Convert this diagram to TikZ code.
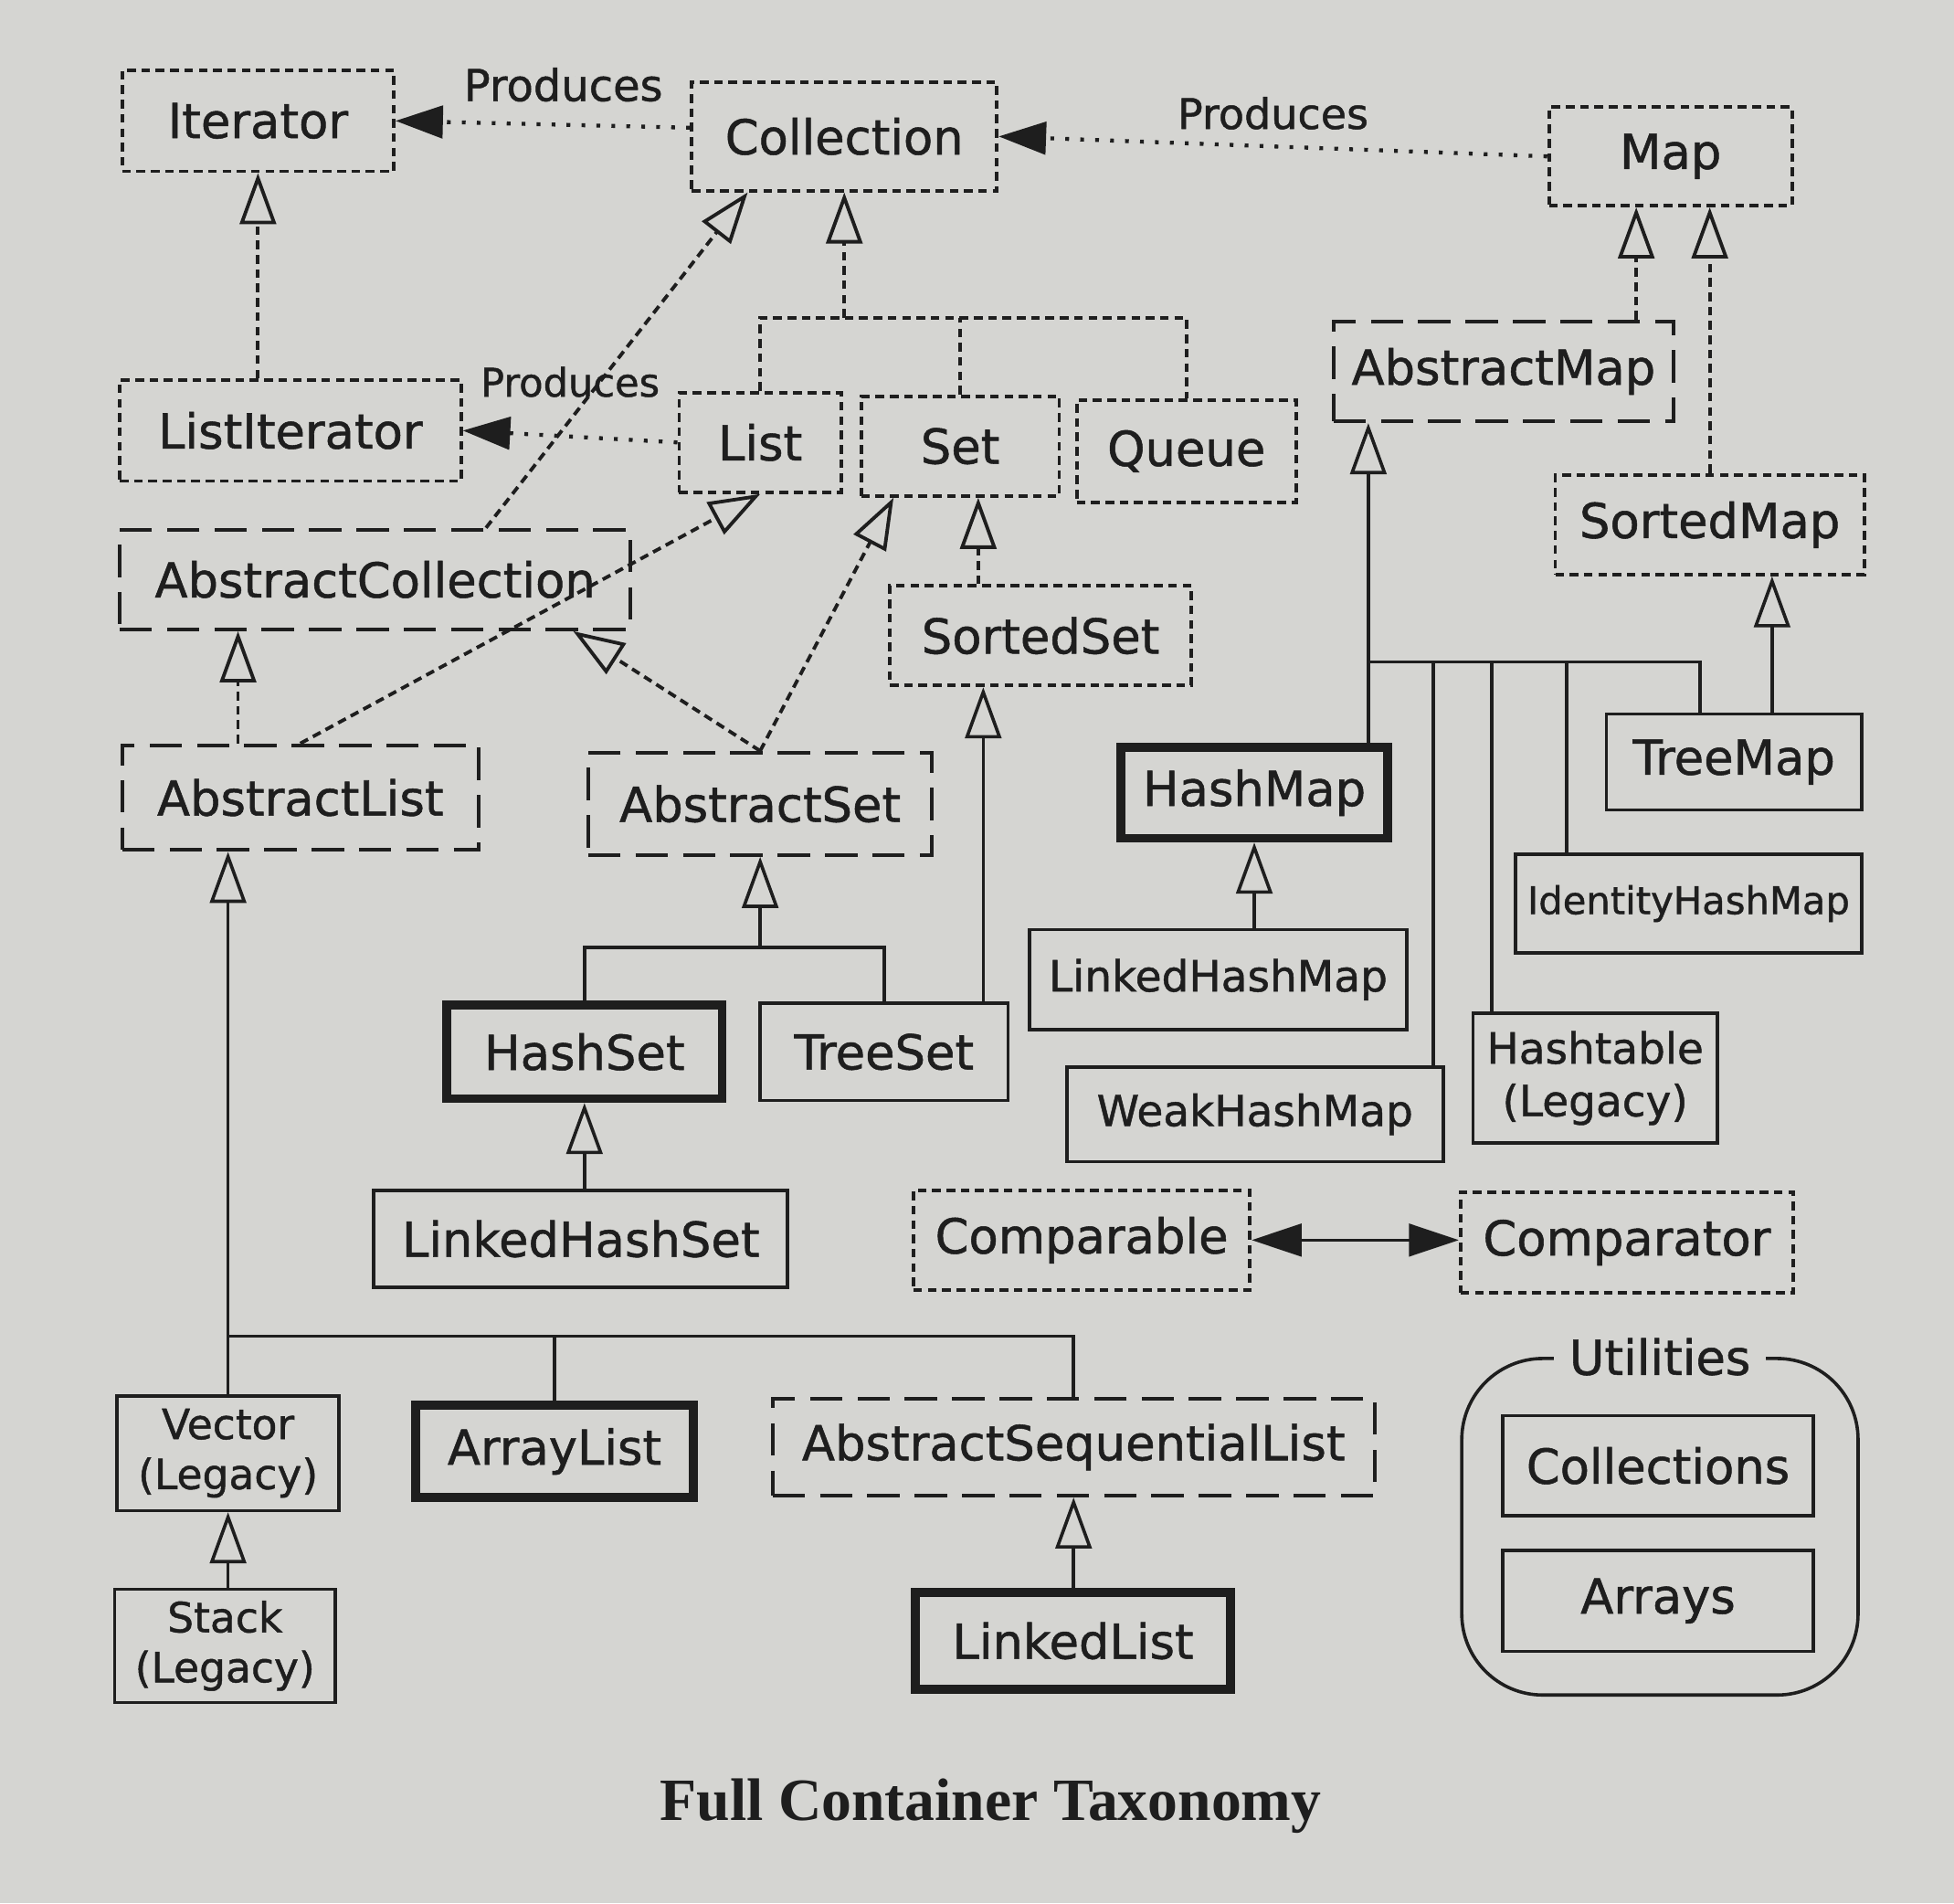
\documentclass[tikz,border=0pt]{standalone}
\usepackage{fontspec}
\usetikzlibrary{arrows.meta}
\newfontfamily\boxfont[FakeBold=1]{DejaVu Sans}
\newfontfamily\capfont{Liberation Serif}
\definecolor{paper}{RGB}{213,213,210}
\definecolor{ink}{RGB}{30,30,30}

\begin{document}
\begin{tikzpicture}[color=ink,line width=0.75pt,
   every node/.style={font=\boxfont\fontsize{11}{13}\selectfont},
   sz/.style 2 args={minimum width=#1cm,minimum height=#2cm,inner sep=0pt},
   ibox/.style={draw,line width=0.8pt,dash pattern=on 0.07cm off 0.045cm},
   abox/.style={draw,line width=0.85pt,dash pattern=on 0.26cm off 0.12cm},
   cbox/.style={draw},
   kbox/.style={draw,line width=2.0pt},
   twoline/.style={align=center,font=\boxfont\fontsize{9.5}{11.4}\selectfont},
   iline/.style={line width=0.8pt,dash pattern=on 0.07cm off 0.045cm},
   isa/.style={-{Triangle[open,length=0.41cm,width=0.29cm]}},
   prod/.style={-{Triangle[length=0.38cm,width=0.26cm]},line width=0.9pt,dash pattern=on 0.03cm off 0.09cm},
   plabel/.style={inner sep=0pt,font=\boxfont\fontsize{10}{12}\selectfont}]

   \fill[paper] (0,0) rectangle (15.68,15.27);
   \useasboundingbox (0,0) rectangle (15.68,15.27);

   \node[ibox,sz={2.18}{0.81}] (iter) at (2.07,14.30) {Iterator};
   \node[ibox,sz={2.45}{0.87}] (coll) at (6.775,14.175) {Collection};
   \node[ibox,sz={1.95}{0.79}] (map) at (13.405,14.015) {Map};
   \node[ibox,sz={2.74}{0.81}] (lit) at (2.33,11.815) {ListIterator};
   \node[ibox,sz={1.30}{0.80}] (list) at (6.10,11.72) {List};
   \node[ibox,sz={1.59}{0.80}] (set) at (7.705,11.69) {Set};
   \node[ibox,sz={1.76}{0.82}] (queue) at (9.52,11.65) {Queue};
   \node[abox,sz={2.73}{0.80}] (amap) at (12.065,12.29) {AbstractMap};
   \node[ibox,sz={2.48}{0.80}] (smap) at (13.72,11.06) {SortedMap};
   \node[abox,sz={4.10}{0.80}] (acoll) at (3.01,10.62) {AbstractCollection};
   \node[ibox,sz={2.42}{0.80}] (sset) at (8.35,10.17) {SortedSet};
   \node[abox,sz={2.86}{0.84}] (alist) at (2.41,8.87) {AbstractList};
   \node[abox,sz={2.76}{0.82}] (aset) at (6.10,8.82) {AbstractSet};
   \node[kbox,sz={2.14}{0.73}] (hmap) at (10.065,8.91) {HashMap};
   \node[cbox,sz={2.05}{0.77}] (tmap) at (13.915,9.155) {TreeMap};
   \node[cbox,sz={2.78}{0.79},font=\boxfont\fontsize{8.7}{10}\selectfont] (ihmap) at (13.55,8.02) {IdentityHashMap};
   \node[cbox,sz={3.03}{0.80},font=\boxfont\fontsize{9.8}{12}\selectfont] (lhmap) at (9.775,7.41) {LinkedHashMap};
   \node[kbox,sz={2.21}{0.75}] (hset) at (4.69,6.83) {HashSet};
   \node[cbox,sz={1.99}{0.78}] (tset) at (7.095,6.83) {TreeSet};
   \node[cbox,sz={3.02}{0.76},font=\boxfont\fontsize{9.8}{12}\selectfont] (whmap) at (10.07,6.33) {WeakHashMap};
   \node[cbox,sz={1.96}{1.04},twoline,font=\boxfont\fontsize{9.8}{12}\selectfont] (htab) at (12.80,6.62) {Hashtable\\(Legacy)};
   \node[cbox,sz={3.32}{0.78}] (lhset) at (4.66,5.33) {LinkedHashSet};
   \node[ibox,sz={2.70}{0.80}] (cmpable) at (8.68,5.32) {Comparable};
   \node[ibox,sz={2.67}{0.81}] (cmpator) at (13.055,5.30) {Comparator};
   \node[cbox,sz={1.78}{0.92},twoline] (vec) at (1.83,3.61) {Vector\\(Legacy)};
   \node[kbox,sz={2.23}{0.74}] (alst) at (4.45,3.625) {ArrayList};
   \node[abox,sz={4.83}{0.78}] (aseq) at (8.615,3.66) {AbstractSequentialList};
   \node[cbox,sz={1.77}{0.91},twoline] (stack) at (1.805,2.065) {Stack\\(Legacy)};
   \node[kbox,sz={2.53}{0.78}] (llist) at (8.61,2.105) {LinkedList};

   \node[cbox,rounded corners=0.65cm,sz={3.18}{2.70}] (util) at (13.32,3.02) {};
   \node[fill=paper,inner xsep=0.12cm,inner ysep=0pt] (utiltitle) at (util.north) {Utilities};
   \node[cbox,sz={2.49}{0.80}] (colls) at (13.305,3.51) {Collections};
   \node[cbox,sz={2.49}{0.81}] (arrs) at (13.305,2.425) {Arrays};

   \node[font=\capfont\bfseries\fontsize{13.7}{16}\selectfont] (title) at (7.95,0.78) {Full Container Taxonomy};

   \draw[prod] ([yshift=0.07cm]coll.west) -- (iter.east)
      node[plabel,pos=0.43,above=0.17cm] (prod1) {Produces};
   \draw[prod] (list.west) -- (lit.east)
      node[plabel,pos=0.5,above=0.3cm,font=\boxfont\fontsize{9}{11}\selectfont] (prod2) {Produces};
   \draw[prod] (map.west) -- (coll.east)
      node[plabel,midway,above=0.12cm,font=\boxfont\fontsize{9.6}{11}\selectfont] (prod3) {Produces};

   \draw[isa,iline] (iter.south |- lit.north) -- (iter.south);
   \coordinate (cbar) at (6.775,12.72);
   \draw[iline] (list.north) |- (cbar) -| (queue.north);
   \draw[iline] (set.north) -- (set.north |- cbar);
   \draw[isa,iline] (cbar) -- (coll.south);
   \draw[isa,iline] ([xshift=0.89cm]acoll.north) -- ([xshift=-0.775cm]coll.south);
   \draw[isa,iline] ([xshift=-0.5cm]sset.north) -- ([xshift=-0.5cm]sset.north |- set.south);
   \draw[isa,iline] (alist.north) -- (list.south);
   \draw[isa,iline] ([xshift=-0.5cm]alist.north) -- ([xshift=-0.5cm]alist.north |- acoll.south);
   \draw[isa,iline] (aset.north) -- ([xshift=-0.535cm]set.south);
   \draw[isa,iline] (aset.north) -- ([xshift=1.59cm]acoll.south);

   \coordinate (sbar) at (6.10,7.67);
   \draw (hset.north) |- (sbar) -| (tset.north);
   \draw[isa] (sbar) -- (aset.south);
   \draw[isa] ([xshift=0.795cm]tset.north) -- ([xshift=0.795cm]tset.north |- sset.south);
   \draw[isa] (hset.south |- lhset.north) -- (hset.south);

   \coordinate (lbar) at (1.83,4.55);
   \draw (vec.north) -- (lbar) -| (aseq.north);
   \draw (alst.north) -- (alst.north |- lbar);
   \draw[isa] (lbar) -- (lbar |- alist.south);
   \draw[isa] (vec.south |- stack.north) -- (vec.south);
   \draw[isa] (aseq.south |- llist.north) -- (aseq.south);

   \draw[isa,iline] ([xshift=1.065cm]amap.north) -- ([xshift=1.065cm]amap.north |- map.south);
   \draw[isa,iline] (smap.north) -- (smap.north |- map.south);
   \coordinate (mbar) at (10.98,9.96);
   \draw (hmap.north -| mbar) -- (mbar) -| ([xshift=-0.275cm]tmap.north);
   \draw ([xshift=1.43cm]whmap.north) -- ([xshift=1.43cm]whmap.north |- mbar);
   \draw ([xshift=-0.83cm]htab.north) -- ([xshift=-0.83cm]htab.north |- mbar);
   \draw ([xshift=-0.98cm]ihmap.north) -- ([xshift=-0.98cm]ihmap.north |- mbar);
   \draw[isa] (mbar) -- (mbar |- amap.south);
   \draw[isa] ([xshift=0.305cm]tmap.north) -- ([xshift=0.305cm]tmap.north |- smap.south);
   \draw[isa] (hmap.south |- lhmap.north) -- (hmap.south);

   \draw[{Triangle[length=0.4cm,width=0.26cm]}-{Triangle[length=0.4cm,width=0.26cm]}] (cmpable.east) -- (cmpable.east -| cmpator.west);
\end{tikzpicture}
\end{document}
